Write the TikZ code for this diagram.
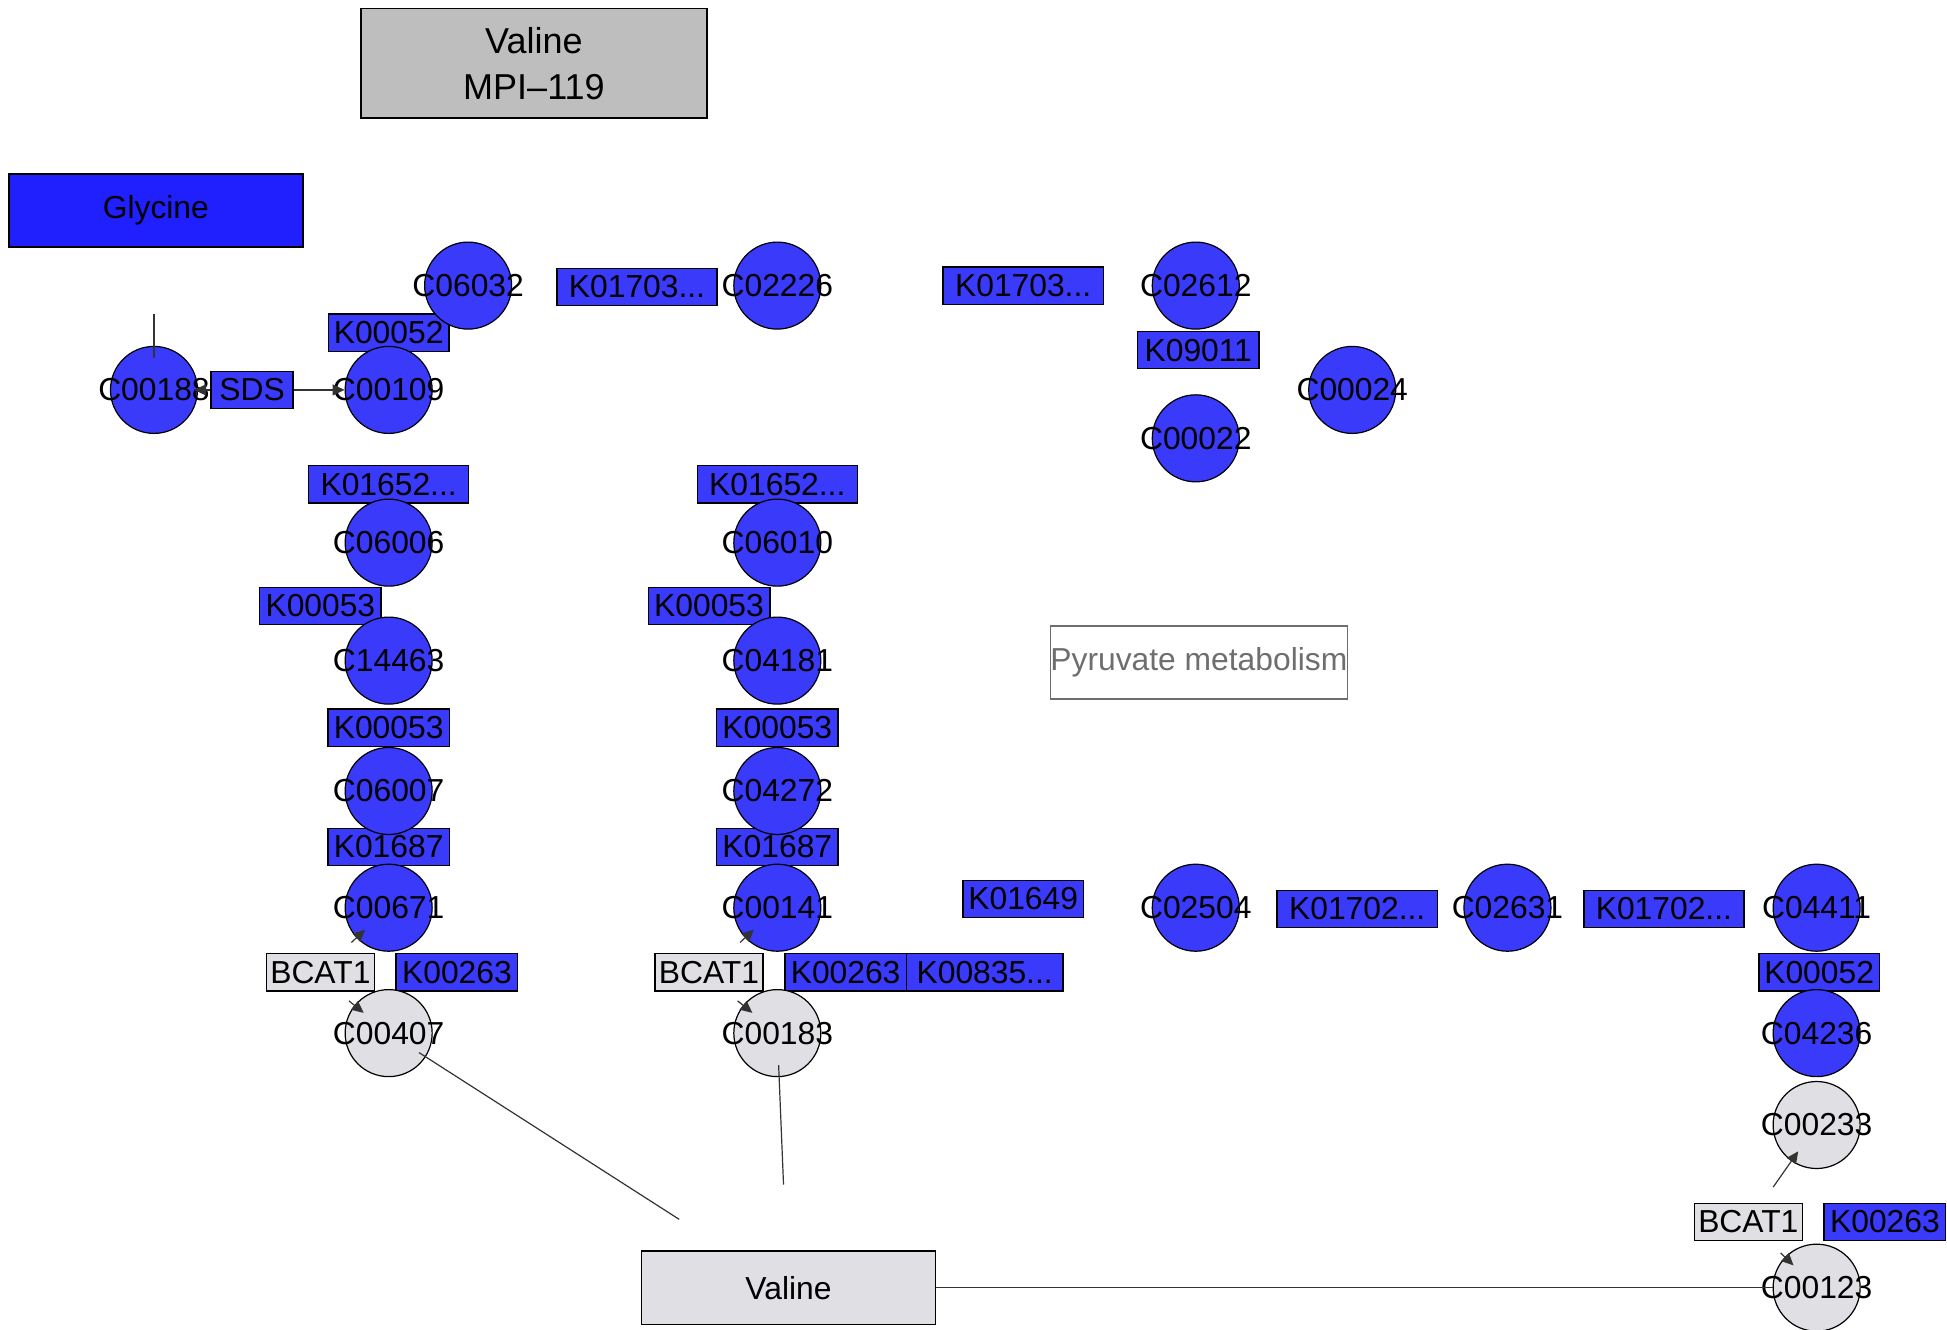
\documentclass[tikz,border=0pt]{standalone}
\usepackage{fontspec}
\setmainfont{Liberation Sans}
\usetikzlibrary{arrows.meta}

\definecolor{kblue}{RGB}{58,58,250}
\definecolor{glyblue}{RGB}{32,32,255}
\definecolor{kgray}{RGB}{223,223,228}
\definecolor{titlegray}{RGB}{190,190,190}
\definecolor{edgegray}{RGB}{51,51,51}
\definecolor{pathgray}{RGB}{110,110,110}
\newcommand{\kdots}{...}

\begin{document}
\begin{tikzpicture}[x=0.6208pt, y=-0.6208pt,
    every node/.style={font=\fontsize{15.9}{18}\selectfont},
    cpd/.style={circle, draw, line width=0.6pt, fill=kblue, minimum size=43.5pt, inner sep=0pt},
    gene/.style={draw, line width=0.7pt, fill=kblue, minimum width=#1, minimum height=18.6pt, inner sep=0pt},
    gene/.default=60.8pt,
    pmap/.style={draw, line width=0.7pt, minimum width=147pt, minimum height=36.6pt, inner sep=0pt},
    conn/.style={draw=edgegray, line width=0.6pt},
    arr/.style={conn, -{Triangle[length=6pt,width=5.5pt]}, shorten >=-6pt}]
    \useasboundingbox (0,0) rectangle (1568,1071);

    % Title and pathway boxes
    \node[pmap, fill=titlegray, minimum width=173pt, minimum height=54.6pt, align=center,
          font=\fontsize{18}{23}\selectfont] (title) at (430,51) {Valine\\MPI–119};
    \node[pmap, fill=glyblue] (Glycine) at (125.5,169.5) {Glycine};
    \node[pmap, draw=pathgray, text=pathgray] (pyruvate) at (965.5,533.5) {Pyruvate metabolism};
    \node[pmap, fill=kgray] (Valine) at (635,1037) {Valine};

    % Gene boxes
    \foreach \n/\t/\x/\y/\w in {sds/SDS/203/314/41pt, ka/K00052/313/268/60.2pt,
        kb/K01703\kdots/513/231/80.1pt, kc/K01703\kdots/824/230/80.1pt, kd/K09011/965/282/60.8pt,
        ke/K01652\kdots/313/390/80.1pt, kf/K01652\kdots/626/390/80.1pt,
        kg/K00053/258/488/60.8pt, kh/K00053/571/488/60.8pt,
        ki/K00053/313/586/60.8pt, kj/K00053/626/586/60.8pt,
        kk/K01687/313/682/60.8pt, kl/K01687/626/682/60.8pt,
        km/K01649/824/724/60.2pt, kn/K01702\kdots/1093/732/80.1pt, ko/K01702\kdots/1340/732/80.1pt,
        kp/K00263/368/783/60.8pt, kq/K00263/681/783/60.8pt, kr/K00835\kdots/793/783/78.2pt,
        ks/K00052/1465/783/60.2pt, kt/K00263/1518/984/60.8pt} {
        \node[gene=\w] (\n) at (\x,\y) {\t};
    }
    \foreach \n/\x/\y in {ba/258/783, bb/571/783, bc/1408/984} {
        \node[gene=54pt, fill=kgray] (\n) at (\x,\y) {BCAT1};
    }

    % Compounds
    \foreach \n/\x/\y in {C06032/377/230, C02226/626/230, C02612/963/230,
        C00188/124/314, C00109/313/314, C00024/1089/314, C00022/963/353,
        C06006/313/437, C06010/626/437, C14463/313/532, C04181/626/532,
        C06007/313/637, C04272/626/637, C00671/313/731, C00141/626/731,
        C02504/963/731, C02631/1214/731, C04411/1463/731, C04236/1463/832} {
        \node[cpd, label=center:\n] (\n) at (\x,\y) {};
    }
    \foreach \n/\x/\y in {C00407/313/832, C00183/626/832, C00233/1463/906, C00123/1463/1037} {
        \node[cpd, fill=kgray, label=center:\n] (\n) at (\x,\y) {};
    }

    % Connectors
    \coordinate (gly) at (124,253);
    \coordinate (v1) at (547,982);
    \coordinate (v2) at (631,954);
    \draw[conn, shorten >=-6pt] (gly) -- (C00188);
    \draw[arr, shorten >=-2pt] (sds) -- (C00188);
    \draw[arr, shorten >=0pt] (sds) -- (C00109);
    \draw[conn, shorten <=-4pt] (C00407) -- (v1);
    \draw[conn, shorten <=-6pt] (C00183) -- (v2);
    \draw[conn] (Valine) -- (C00123);

    % BCAT1 reaction tips
    \foreach \x/\y/\c in {283/759/C00671, 281/806/C00407, 596/759/C00141,
        594/806/C00183, 1434/1009/C00123, 1428/956/C00233} {
        \draw[arr] (\x,\y) -- (\c);
    }
\end{tikzpicture}
\end{document}
